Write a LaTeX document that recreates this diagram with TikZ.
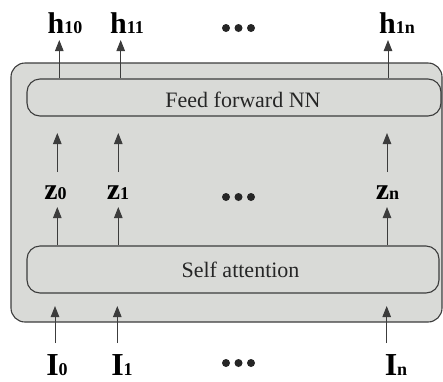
\documentclass[tikz,border=0pt]{standalone}
\usepackage{fontspec}
\setmainfont{Liberation Serif}
\usetikzlibrary{arrows.meta}

\definecolor{panelgray}{HTML}{D9DAD7}
\definecolor{edgegray}{HTML}{3C3C3C}

% small index digits set on the baseline
\newcommand{\lowidx}[1]{{\fontsize{18}{18}\selectfont #1}}

\tikzset{
  panel/.style={draw=edgegray, line width=1.1pt, fill=panelgray, rounded corners=14pt, inner sep=0pt},
  layerbox/.style={draw=edgegray, line width=1.1pt, fill=panelgray, rounded corners=13pt, inner sep=0pt},
  layertext/.style={font=\fontsize{22}{22}\selectfont, text=black!85, inner sep=0pt, anchor=base},
  hlabel/.style={font=\bfseries\fontsize{30}{30}\selectfont, inner sep=0pt, anchor=base},
  zlabel/.style={font=\bfseries\fontsize{30}{30}\selectfont, inner sep=0pt, anchor=base},
  ilabel/.style={font=\bfseries\fontsize{32}{32}\selectfont, inner sep=0pt, anchor=base},
  flow/.style={draw=edgegray, line width=1pt, -{Triangle[length=11pt,width=8.5pt]}},
  dotmark/.style={circle, fill=black!85, minimum size=8pt, inner sep=0pt},
}

\begin{document}
\begin{tikzpicture}[x=1pt,y=-1pt]
\useasboundingbox (0,0) rectangle (443,381);

% encoder block and its two layers
\node[panel, minimum width=431pt, minimum height=259pt] (block) at (226.5,192.5) {};
\node[layerbox, minimum width=414pt, minimum height=37pt] (ffn) at (234,97.5) {};
\node[layertext] (ffntext) at (243,107.5) {Feed forward NN};
\node[layerbox, minimum width=412pt, minimum height=47pt] (sa) at (233,269.5) {};
\node[layertext] (satext) at (240.5,277) {Self attention};

% outputs
\node[hlabel] (h0) at (65,33) {h\lowidx{10}};
\node[hlabel] (h1) at (127,33) {h\lowidx{11}};
\node[hlabel] (hn) at (397,33) {h\lowidx{1n}};

% intermediate vectors
\node[zlabel] (z0) at (55.5,199) {z\lowidx{0}};
\node[zlabel] (z1) at (118,199) {z\lowidx{1}};
\node[zlabel] (zn) at (387.5,199) {z\lowidx{n}};

% inputs
\node[ilabel] (i0) at (57,375) {I\lowidx{0}};
\node[ilabel] (i1) at (122,375) {I\lowidx{1}};
\node[ilabel] (in) at (396,375) {I\lowidx{n}};

% ellipsis marks
\foreach \row/\y in {t/28, m/197, b/363}{
  \node[dotmark] (\row d1) at (226,\y) {};
  \node[dotmark] (\row d2) at (238.5,\y) {};
  \node[dotmark] (\row d3) at (251,\y) {};
}

% arrow tips and tails
\coordinate (ht0) at (59.3,40);   \coordinate (ht1) at (120.7,40);  \coordinate (htn) at (388,40);
\coordinate (zu0) at (57.3,133);  \coordinate (zu1) at (118.3,133); \coordinate (zun) at (387,133);
\coordinate (zb0) at (57.3,172);  \coordinate (zb1) at (118.3,172); \coordinate (zbn) at (387,172);
\coordinate (zt0) at (57.3,207);  \coordinate (zt1) at (118.3,207); \coordinate (ztn) at (387,207);
\coordinate (it0) at (55,306);    \coordinate (it1) at (117.3,306); \coordinate (itn) at (386.7,306);
\coordinate (ib0) at (55,343);    \coordinate (ib1) at (117.3,343); \coordinate (ibn) at (386.7,343);

\foreach \k in {0,1,n}{
  \draw[flow] (ht\k |- ffn.north) -- (ht\k);
  \draw[flow] (zb\k) -- (zu\k);
  \draw[flow] (zt\k |- sa.north) -- (zt\k);
  \draw[flow] (ib\k) -- (it\k);
}
\end{tikzpicture}
\end{document}
